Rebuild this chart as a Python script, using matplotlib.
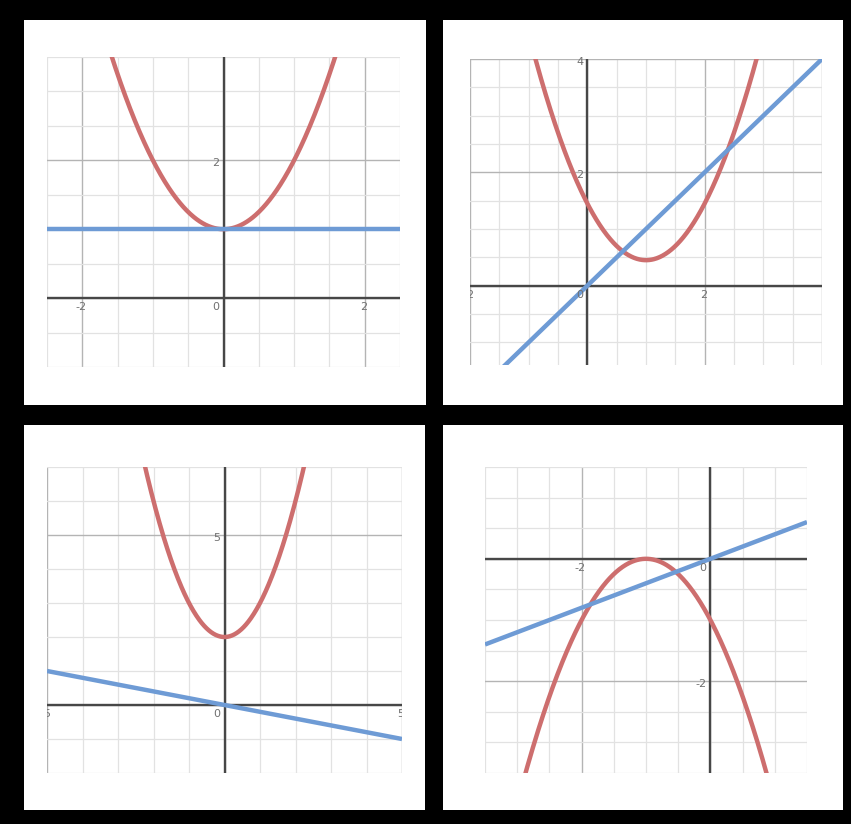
import numpy as np
import matplotlib
matplotlib.use("Agg")
import matplotlib.pyplot as plt
from matplotlib.patches import Rectangle
from matplotlib.ticker import MultipleLocator

# ---- data ----
# polynomial coefficients, highest power first
p1_red = [1.0, 0.0, 1.0]        # y = x^2 + 1
p1_blue = [0.0, 1.0]            # y = 1
p2_red = [1.0, -2.0, 1.45]      # y = (x-1)^2 + 0.45
p2_blue = [1.0, 0.0]            # y = x
p3_red = [1.0, 0.0, 2.0]        # y = x^2 + 2
p3_blue = [-0.2, 0.0]           # y = -0.2x
p4_red = [-1.0, -2.0, -1.0]     # y = -(x+1)^2
p4_blue = [0.4, 0.0]            # y = 0.4x

p1_xlim, p1_ylim = [-2.5, 2.5], [-1.0, 3.5]
p2_xlim, p2_ylim = [-2.0, 4.0], [-1.4, 4.0]
p3_xlim, p3_ylim = [-5.0, 5.0], [-2.0, 7.0]
p4_xlim, p4_ylim = [-3.5, 1.5], [-3.5, 1.5]

p1_xticks, p1_yticks = [-2, 0, 2], [2]
p2_xticks, p2_yticks = [-2, 0, 2], [2, 4]
p3_xticks, p3_yticks = [-5, 0, 5], [5]
p4_xticks, p4_yticks = [-2, 0], [-2]

# ---- styling ----
W, H = 851, 824
RED = "#cd6e6e"
BLUE = "#6e9bd5"
AXIS = "#474747"
MAJOR = "#b4b4b4"
MINOR = "#e2e2e2"
LABEL = "#707070"

fig = plt.figure(figsize=(W / 100, H / 100), dpi=100, facecolor="black")


def frac(x0, y0, x1, y1):
    return [x0 / W, 1 - y1 / H, (x1 - x0) / W, (y1 - y0) / H]


def panel(white_box, grid_box, xlim, ylim, minor, major, red, blue, xticks, yticks):
    r = frac(*white_box)
    fig.add_artist(Rectangle(r[:2], r[2], r[3], transform=fig.transFigure,
                             facecolor="white", edgecolor="none", zorder=0))
    ax = fig.add_axes(frac(*grid_box))
    ax.set_facecolor("white")
    ax.set_xlim(xlim)
    ax.set_ylim(ylim)
    for axis in (ax.xaxis, ax.yaxis):
        axis.set_minor_locator(MultipleLocator(minor))
        axis.set_major_locator(MultipleLocator(major))
    ax.grid(which="minor", color=MINOR, lw=0.9)
    ax.grid(which="major", color=MAJOR, lw=1.0)
    ax.set_axisbelow(True)
    ax.tick_params(which="both", length=0, labelbottom=False, labelleft=False)
    for s in ax.spines.values():
        s.set_visible(False)
    ax.axhline(0, color=AXIS, lw=1.7, zorder=2)
    ax.axvline(0, color=AXIS, lw=1.7, zorder=2)
    x = np.linspace(xlim[0], xlim[1], 600)
    ax.plot(x, np.polyval(red, x), color=RED, lw=3.2, zorder=3, solid_capstyle="butt")
    ax.plot(x, np.polyval(blue, x), color=BLUE, lw=3.2, zorder=4, solid_capstyle="butt")
    for t in xticks:
        lab = ax.annotate(f"{t}", (t, 0), xytext=(-3 if t == 0 else -1, -3),
                          textcoords="offset points", ha="right" if t == 0 else "center",
                          va="top", fontsize=8, color=LABEL, zorder=5)
        lab.set_clip_on(True)
        lab.set_clip_box(ax.bbox)
    for t in yticks:
        ax.annotate(f"{t}", (0, t), xytext=(-3, -2), textcoords="offset points",
                    ha="right", va="center", fontsize=8, color=LABEL, zorder=5)
    return ax


panel((24, 20, 426, 405), (47, 57, 400, 367), p1_xlim, p1_ylim, 0.5, 2, p1_red, p1_blue, p1_xticks, p1_yticks)
panel((443, 20, 843, 405), (470, 59, 822, 365), p2_xlim, p2_ylim, 0.5, 2, p2_red, p2_blue, p2_xticks, p2_yticks)
panel((24, 425, 425, 810), (47, 467, 402, 773), p3_xlim, p3_ylim, 1, 5, p3_red, p3_blue, p3_xticks, p3_yticks)
panel((443, 425, 843, 810), (485, 467, 807, 773), p4_xlim, p4_ylim, 0.5, 2, p4_red, p4_blue, p4_xticks, p4_yticks)

fig.savefig("out.png", dpi=100, facecolor="black")
